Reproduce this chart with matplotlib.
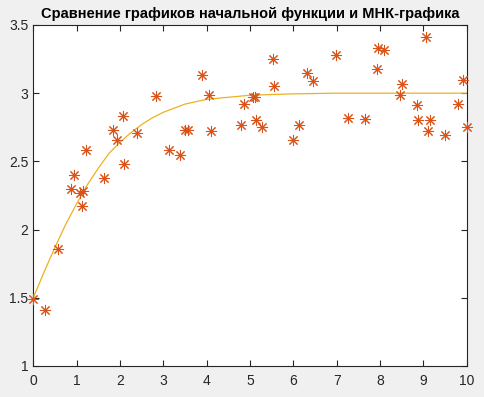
import numpy as np
import matplotlib.pyplot as plt

# measured points
x_data = [0.0, 0.26, 0.58, 0.87, 0.95, 1.08, 1.12, 1.15, 1.21, 1.64, 1.85, 1.92,
          2.08, 2.09, 2.39, 2.84, 3.14, 3.39, 3.50, 3.58, 3.89, 4.05, 4.09, 4.80,
          4.87, 5.08, 5.12, 5.14, 5.28, 5.54, 5.56, 6.00, 6.14, 6.32, 6.46, 6.98,
          7.27, 7.66, 7.93, 7.95, 8.08, 8.46, 8.51, 8.85, 8.88, 9.05, 9.10, 9.16,
          9.49, 9.81, 9.92, 10.0]
y_data = [1.49, 1.41, 1.86, 2.30, 2.40, 2.27, 2.17, 2.28, 2.58, 2.38, 2.73, 2.66,
          2.83, 2.48, 2.71, 2.98, 2.58, 2.55, 2.73, 2.73, 3.13, 2.99, 2.72, 2.77,
          2.92, 2.97, 2.97, 2.80, 2.75, 3.25, 3.05, 2.66, 2.77, 3.15, 3.09, 3.28,
          2.82, 2.81, 3.18, 3.33, 3.32, 2.99, 3.07, 2.91, 2.80, 3.41, 2.72, 2.80,
          2.69, 2.92, 3.10, 2.75]

# least-squares curve
x_fit = [0.0, 0.25, 0.5, 0.75, 1.0, 1.25, 1.5, 1.75, 2.0, 2.25, 2.5, 2.75, 3.0,
         3.5, 4.0, 4.5, 5.0, 6.0, 7.0, 8.0, 10.0]
y_fit = [1.50, 1.69, 1.87, 2.04, 2.19, 2.33, 2.45, 2.56, 2.64, 2.71, 2.77, 2.82,
         2.86, 2.92, 2.955, 2.97, 2.985, 2.995, 3.0, 3.0, 3.0]

x_ticks = list(range(0, 11))
y_ticks = [1, 1.5, 2, 2.5, 3, 3.5]
y_labels = ['1', '1.5', '2', '2.5', '3', '3.5']

plt.rcParams['font.family'] = ['Liberation Sans', 'DejaVu Sans']
ink = '#262626'

fig = plt.figure(figsize=(4.84, 3.97), dpi=100, facecolor='#f0f0f0')
ax = fig.add_axes([0.0688, 0.0781, 0.8955, 0.859])

ax.plot(x_fit, y_fit, color='#EDB120', lw=0.9, zorder=2)
ax.plot(x_data, y_data, linestyle='none', marker=(8, 2, 0), markersize=8,
        markeredgewidth=0.75, color='#D95319', zorder=3, clip_on=False)

ax.set_xlim(0, 10)
ax.set_ylim(1, 3.5)
ax.set_xticks(x_ticks)
ax.set_yticks(y_ticks)
ax.set_yticklabels(y_labels)
ax.tick_params(direction='in', length=4, width=0.8, colors=ink, labelsize=10,
               top=True, right=True, labeltop=False, labelright=False)
ax.tick_params(axis='x', pad=6)
for s in ax.spines.values():
    s.set_color(ink)
    s.set_linewidth(0.8)

ax.set_title('Сравнение графиков начальной функции и МНК-графика',
             fontsize=10.5, fontweight='bold', color='black', pad=5)

fig.savefig('out.png', dpi=100, facecolor=fig.get_facecolor())
